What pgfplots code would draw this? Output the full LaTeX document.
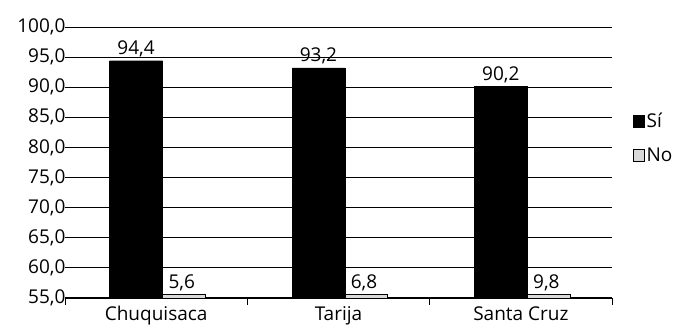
\documentclass[border=0pt]{standalone}
\usepackage{fontspec}
\setmainfont{Open Sans}
\usepackage{pgfplots}
\usepackage{pgfplotstable}
\pgfplotsset{compat=1.18}

\newcommand\chartfont{\fontsize{19bp}{22bp}\selectfont}

% Departamento, Sí, No (%)
\pgfplotstableread{
x si no
0 94.4 5.6
1 93.2 6.8
2 90.2 9.8
}\datos

\begin{document}
\begin{tikzpicture}[font=\chartfont]
\useasboundingbox (-65bp,-37bp) rectangle (615bp,298bp);
\begin{axis}[
  at={(0,0)}, anchor=south west,
  scale only axis,
  width=547bp, height=271bp,
  ymin=55, ymax=100,
  ytick={55,60,...,100},
  xmin=-0.5, xmax=2.5,
  xtick={0,1,2},
  xticklabels={Chuquisaca,Tarija,Santa Cruz},
  minor xtick={-0.5,0.5,1.5,2.5},
  ymajorgrids,
  grid style={black, line width=0.8pt},
  axis x line*=bottom,
  axis y line*=left,
  y axis line style={draw=none},
  x axis line style={line width=1.6pt, -},
  tick align=outside,
  major tick length=0pt,
  minor tick length=7pt,
  minor tick style={black, line width=0.9pt},
  /pgf/number format/assume math mode=true,
  yticklabel style={xshift=4bp,
    /pgf/number format/.cd, use comma, fixed, fixed zerofill, precision=1},
  xticklabel style={yshift=-5bp},
  ybar,
  nodes near coords,
  point meta=rawy,
  every node near coord/.append style={font=\chartfont,
    /pgf/number format/.cd, use comma, fixed, fixed zerofill, precision=1},
  reverse legend,
  legend style={at={(1.038,0.69)}, anchor=north west, draw=none, fill=none,
    font=\chartfont, row sep=15bp, inner sep=0pt,
    /tikz/every even column/.append style={column sep=2bp}},
  legend cell align=left,
  legend image code/.code={\draw[#1] (0bp,-6bp) rectangle (11bp,6bp);},
]
% values below the axis floor are shown as a thin stub resting on it
\addplot[fill=gray!30, draw=black, line width=0.6pt, bar width=0.26, bar shift=0.14,
  y filter/.expression={y<55 ? 55.6 : y}]
  table[x=x, y=no] {\datos};
\addlegendentry{No}
\addplot[fill=black, draw=black, bar width=0.29, bar shift=-0.11]
  table[x=x, y=si] {\datos};
\addlegendentry{Sí}
\end{axis}
\end{tikzpicture}
\end{document}
